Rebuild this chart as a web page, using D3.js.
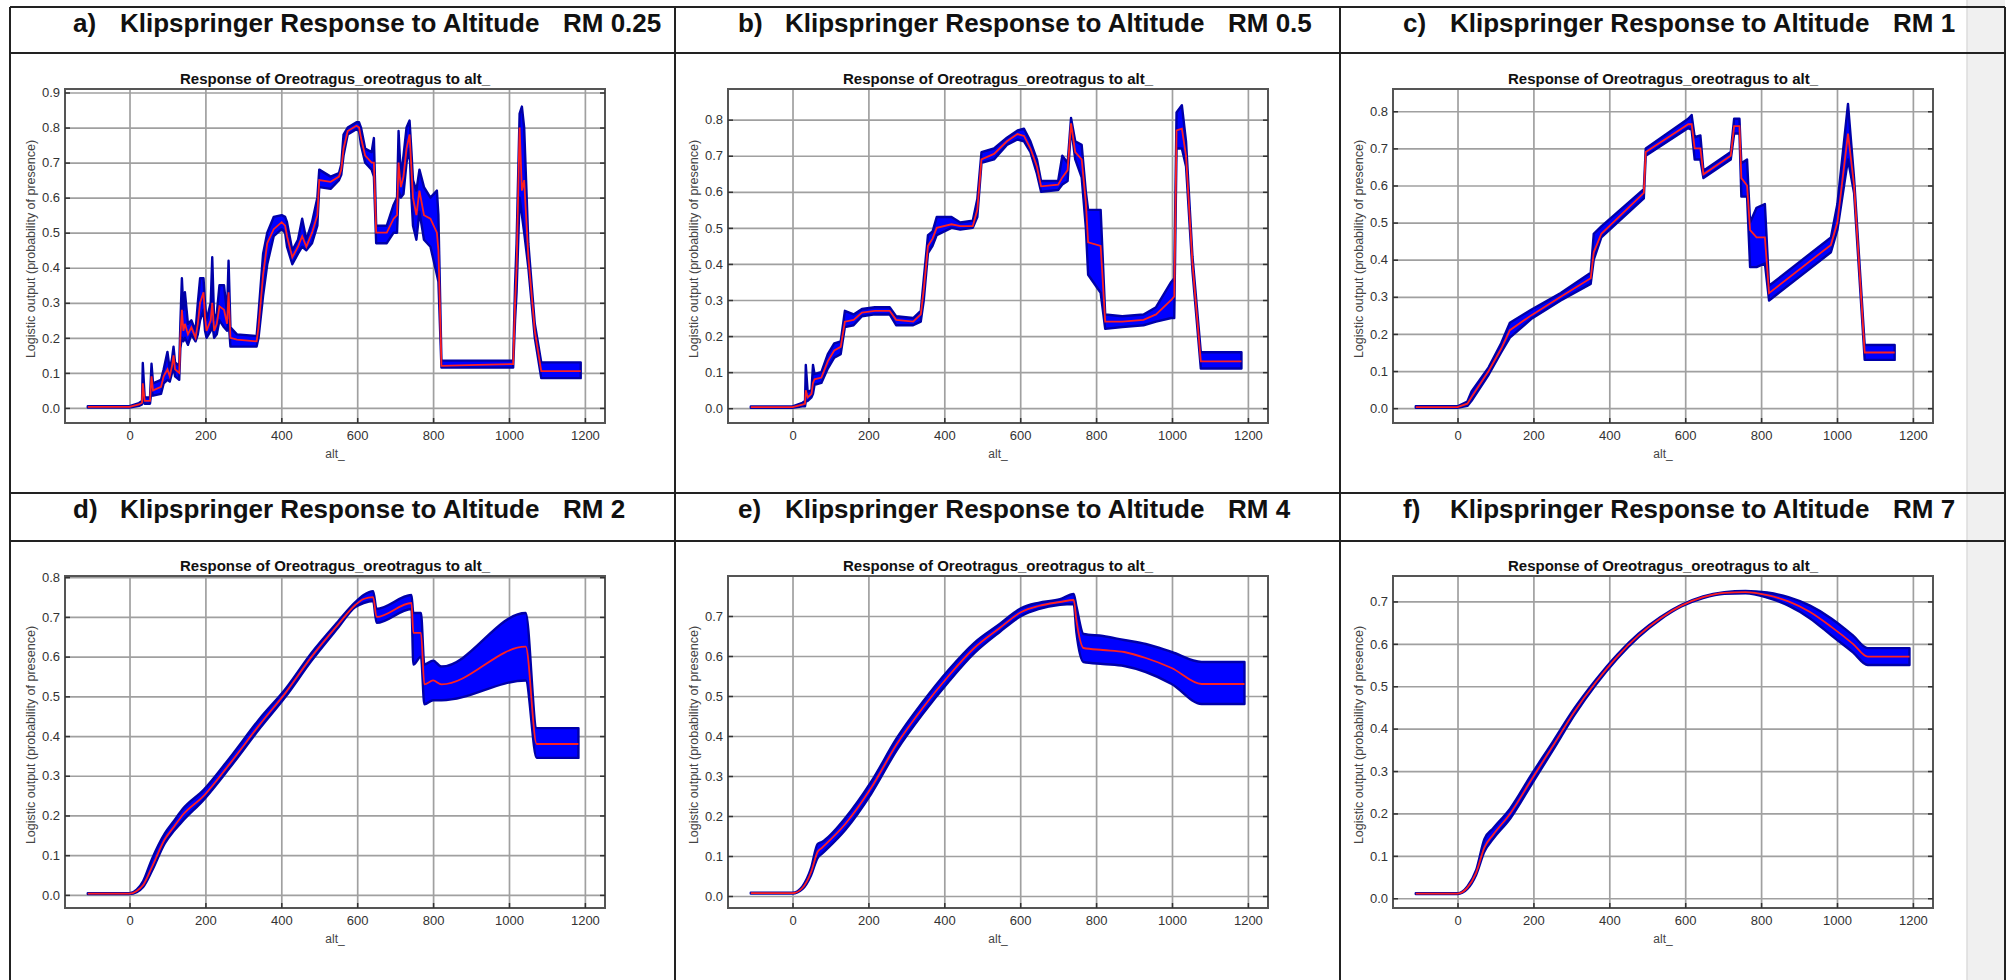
<!DOCTYPE html>
<html>
<head>
<meta charset="utf-8">
<script src="https://cdn.jsdelivr.net/npm/d3@7"></script>
<style>
  body { margin: 0; background: #fff; }
  svg { display: block; font-family: "Liberation Sans", Arial, sans-serif; }
</style>
</head>
<body>
<div id="chart"></div>
<script>
// text of the six panels
const panelLetters = ["a)", "b)", "c)", "d)", "e)", "f)"];
const rmLabels = ["RM 0.25", "RM 0.5", "RM 1", "RM 2", "RM 4", "RM 7"];
const headerText = "Klipspringer Response to Altitude";
const plotTitle = "Response of Oreotragus_oreotragus to alt_";
const yLabel = "Logistic output (probability of presence)";
const xLabel = "alt_";

const xTicks = [0, 200, 400, 600, 800, 1000, 1200];
const yTickCount = [10, 9, 9, 9, 8, 8];   // 0.0 .. 0.9 / 0.8 / 0.7
const yDomains = [[-0.043, 0.91], [-0.041, 0.885], [-0.04, 0.86], [-0.033, 0.803], [-0.03, 0.80], [-0.023, 0.76]];

// rows: [altitude, mean, mean - sd, mean + sd]
const curveA = [
  [-110, 0.003, 0.001, 0.005], [0, 0.003, 0.001, 0.005], [25, 0.01, 0.006, 0.014], [33, 0.015, 0.01, 0.02],
  [35, 0.07, 0.03, 0.128], [40, 0.02, 0.012, 0.03], [54, 0.02, 0.012, 0.03], [58, 0.09, 0.05, 0.126],
  [62, 0.05, 0.035, 0.07], [83, 0.06, 0.04, 0.08], [90, 0.09, 0.07, 0.11], [100, 0.11, 0.08, 0.16],
  [106, 0.09, 0.075, 0.11], [112, 0.12, 0.1, 0.14], [116, 0.15, 0.12, 0.175], [120, 0.11, 0.09, 0.13],
  [131, 0.1, 0.08, 0.12], [134, 0.2, 0.17, 0.24], [138, 0.28, 0.2, 0.37], [142, 0.22, 0.19, 0.28],
  [146, 0.24, 0.2, 0.33], [154, 0.21, 0.18, 0.24], [163, 0.23, 0.21, 0.25], [174, 0.2, 0.19, 0.22],
  [180, 0.24, 0.21, 0.3], [186, 0.3, 0.25, 0.37], [195, 0.33, 0.28, 0.37], [199, 0.26, 0.22, 0.3],
  [203, 0.22, 0.2, 0.25], [214, 0.25, 0.22, 0.3], [218, 0.3, 0.24, 0.43], [223, 0.22, 0.2, 0.25],
  [230, 0.24, 0.21, 0.27], [237, 0.29, 0.25, 0.35], [249, 0.28, 0.23, 0.35], [257, 0.24, 0.22, 0.27],
  [261, 0.33, 0.25, 0.42], [266, 0.2, 0.175, 0.23], [283, 0.195, 0.175, 0.21], [335, 0.19, 0.175, 0.205],
  [340, 0.23, 0.2, 0.27], [352, 0.38, 0.32, 0.44], [363, 0.47, 0.41, 0.5], [380, 0.51, 0.49, 0.545],
  [401, 0.53, 0.51, 0.55], [410, 0.52, 0.5, 0.545], [415, 0.49, 0.46, 0.53], [429, 0.43, 0.41, 0.45],
  [444, 0.46, 0.44, 0.48], [455, 0.49, 0.46, 0.54], [466, 0.46, 0.45, 0.48], [481, 0.5, 0.47, 0.53],
  [495, 0.55, 0.52, 0.6], [500, 0.65, 0.63, 0.68], [530, 0.645, 0.625, 0.66], [552, 0.66, 0.65, 0.67],
  [558, 0.68, 0.665, 0.695], [564, 0.74, 0.72, 0.78], [575, 0.79, 0.78, 0.8], [598, 0.805, 0.795, 0.815],
  [605, 0.8, 0.79, 0.815], [610, 0.77, 0.75, 0.8], [621, 0.72, 0.7, 0.74], [638, 0.7, 0.68, 0.73],
  [644, 0.7, 0.66, 0.77], [650, 0.5, 0.47, 0.52], [678, 0.5, 0.47, 0.52], [696, 0.54, 0.5, 0.58],
  [705, 0.55, 0.5, 0.6], [709, 0.7, 0.62, 0.79], [715, 0.63, 0.6, 0.66], [722, 0.66, 0.61, 0.72],
  [730, 0.74, 0.7, 0.8], [738, 0.78, 0.74, 0.82], [743, 0.68, 0.6, 0.73], [747, 0.6, 0.52, 0.65],
  [756, 0.55, 0.48, 0.62], [764, 0.62, 0.56, 0.68], [776, 0.55, 0.48, 0.63], [793, 0.54, 0.46, 0.6],
  [810, 0.5, 0.38, 0.62], [814, 0.45, 0.36, 0.55], [822, 0.12, 0.115, 0.135], [919, 0.123, 0.115, 0.135],
  [1011, 0.125, 0.115, 0.135], [1016, 0.3, 0.25, 0.35], [1020, 0.4, 0.33, 0.47], [1028, 0.8, 0.6, 0.84],
  [1034, 0.62, 0.55, 0.86], [1040, 0.65, 0.5, 0.8], [1051, 0.43, 0.4, 0.47], [1068, 0.22, 0.2, 0.24],
  [1085, 0.105, 0.085, 0.13], [1189, 0.105, 0.085, 0.13]
];

const curveB = [
  [-110, 0.003, 0.001, 0.005], [0, 0.003, 0.001, 0.005], [26, 0.01, 0.005, 0.015], [33, 0.012, 0.005, 0.02],
  [35, 0.05, 0.02, 0.12], [40, 0.03, 0.02, 0.045], [50, 0.04, 0.03, 0.05], [54, 0.07, 0.04, 0.12],
  [58, 0.08, 0.065, 0.095], [76, 0.085, 0.07, 0.1], [93, 0.13, 0.11, 0.15], [110, 0.16, 0.14, 0.18],
  [127, 0.17, 0.15, 0.185], [138, 0.24, 0.225, 0.27], [161, 0.245, 0.23, 0.26], [183, 0.265, 0.255, 0.275],
  [217, 0.27, 0.26, 0.28], [256, 0.27, 0.26, 0.28], [273, 0.245, 0.23, 0.255], [318, 0.24, 0.23, 0.25],
  [338, 0.26, 0.24, 0.27], [346, 0.33, 0.3, 0.36], [357, 0.45, 0.43, 0.48], [369, 0.47, 0.45, 0.49],
  [380, 0.5, 0.48, 0.53], [419, 0.51, 0.5, 0.53], [442, 0.505, 0.495, 0.515], [475, 0.505, 0.5, 0.52],
  [487, 0.55, 0.53, 0.58], [498, 0.69, 0.68, 0.71], [531, 0.705, 0.69, 0.72], [565, 0.74, 0.73, 0.75],
  [593, 0.76, 0.745, 0.77], [610, 0.755, 0.74, 0.775], [627, 0.72, 0.71, 0.74], [644, 0.67, 0.65, 0.69],
  [655, 0.615, 0.6, 0.63], [700, 0.62, 0.605, 0.63], [711, 0.64, 0.62, 0.7], [725, 0.66, 0.63, 0.68],
  [734, 0.79, 0.78, 0.805], [745, 0.71, 0.69, 0.74], [762, 0.69, 0.64, 0.73], [773, 0.57, 0.5, 0.6],
  [779, 0.46, 0.37, 0.55], [812, 0.45, 0.32, 0.55], [824, 0.24, 0.22, 0.26], [869, 0.24, 0.225, 0.255],
  [925, 0.245, 0.23, 0.26], [958, 0.26, 0.24, 0.28], [998, 0.3, 0.25, 0.35], [1006, 0.31, 0.25, 0.36],
  [1012, 0.77, 0.72, 0.82], [1026, 0.775, 0.72, 0.84], [1037, 0.7, 0.67, 0.74], [1054, 0.4, 0.38, 0.42],
  [1076, 0.13, 0.11, 0.155], [1183, 0.13, 0.11, 0.155]
];

const curveC = [
  [-110, 0.003, 0.001, 0.005], [0, 0.003, 0.001, 0.005], [26, 0.012, 0.006, 0.018], [37, 0.03, 0.02, 0.045],
  [82, 0.1, 0.09, 0.11], [115, 0.16, 0.15, 0.175], [138, 0.21, 0.19, 0.23], [194, 0.25, 0.24, 0.265],
  [272, 0.3, 0.29, 0.31], [351, 0.35, 0.335, 0.365], [359, 0.42, 0.4, 0.47], [379, 0.47, 0.46, 0.49],
  [491, 0.58, 0.565, 0.59], [496, 0.69, 0.68, 0.7], [608, 0.765, 0.755, 0.78], [617, 0.765, 0.75, 0.79],
  [625, 0.7, 0.67, 0.73], [640, 0.7, 0.67, 0.735], [648, 0.63, 0.62, 0.64], [720, 0.68, 0.67, 0.69],
  [729, 0.76, 0.74, 0.78], [743, 0.76, 0.74, 0.78], [748, 0.62, 0.57, 0.66], [763, 0.6, 0.57, 0.67],
  [771, 0.48, 0.38, 0.5], [788, 0.46, 0.38, 0.54], [810, 0.46, 0.39, 0.55], [821, 0.31, 0.29, 0.33],
  [984, 0.44, 0.42, 0.46], [1001, 0.5, 0.48, 0.55], [1029, 0.74, 0.67, 0.82], [1045, 0.6, 0.58, 0.62],
  [1073, 0.15, 0.13, 0.17], [1152, 0.15, 0.13, 0.17]
];

const curveD = [
  [-110, 0.003, 0.002, 0.004], [0, 0.003, 0.002, 0.004], [19, 0.01, 0.007, 0.013], [36, 0.025, 0.02, 0.035],
  [59, 0.07, 0.06, 0.09], [93, 0.14, 0.13, 0.155], [116, 0.17, 0.16, 0.185], [139, 0.2, 0.185, 0.215],
  [196, 0.25, 0.24, 0.265], [264, 0.33, 0.32, 0.345], [344, 0.43, 0.42, 0.445], [412, 0.51, 0.5, 0.52],
  [480, 0.6, 0.59, 0.61], [549, 0.68, 0.672, 0.688], [595, 0.73, 0.725, 0.737], [617, 0.745, 0.735, 0.755],
  [642, 0.75, 0.74, 0.765], [651, 0.7, 0.685, 0.72], [743, 0.735, 0.72, 0.755], [748, 0.66, 0.58, 0.71],
  [768, 0.66, 0.6, 0.71], [777, 0.53, 0.48, 0.58], [800, 0.54, 0.49, 0.59], [822, 0.53, 0.49, 0.575],
  [1044, 0.625, 0.54, 0.71], [1073, 0.38, 0.345, 0.42], [1183, 0.38, 0.345, 0.42]
];

const curveE = [
  [-110, 0.007, 0.006, 0.008], [0, 0.007, 0.006, 0.008], [26, 0.02, 0.017, 0.024], [49, 0.06, 0.052, 0.07],
  [66, 0.11, 0.095, 0.13], [77, 0.12, 0.105, 0.135], [139, 0.18, 0.165, 0.195], [207, 0.27, 0.255, 0.285],
  [275, 0.38, 0.365, 0.395], [343, 0.47, 0.455, 0.485], [411, 0.55, 0.535, 0.565], [479, 0.62, 0.607, 0.633],
  [546, 0.67, 0.66, 0.68], [603, 0.71, 0.7, 0.72], [648, 0.725, 0.717, 0.733], [705, 0.735, 0.728, 0.742],
  [741, 0.74, 0.73, 0.755], [748, 0.69, 0.66, 0.725], [767, 0.62, 0.585, 0.655], [818, 0.615, 0.58, 0.65],
  [874, 0.61, 0.575, 0.64], [931, 0.595, 0.56, 0.63], [999, 0.57, 0.53, 0.61], [1078, 0.53, 0.48, 0.585],
  [1191, 0.53, 0.48, 0.585]
];

const curveF = [
  [-110, 0.011, 0.01, 0.012], [0, 0.011, 0.01, 0.012], [26, 0.025, 0.022, 0.028], [49, 0.06, 0.055, 0.066],
  [71, 0.12, 0.11, 0.14], [94, 0.15, 0.14, 0.165], [139, 0.2, 0.188, 0.212], [195, 0.28, 0.268, 0.292],
  [252, 0.36, 0.35, 0.37], [308, 0.44, 0.432, 0.448], [365, 0.51, 0.504, 0.516], [421, 0.57, 0.565, 0.575],
  [477, 0.62, 0.616, 0.624], [534, 0.66, 0.657, 0.663], [590, 0.69, 0.688, 0.692], [647, 0.71, 0.708, 0.712],
  [703, 0.72, 0.718, 0.722], [759, 0.722, 0.719, 0.725], [816, 0.715, 0.709, 0.721], [872, 0.7, 0.69, 0.71],
  [929, 0.675, 0.66, 0.69], [985, 0.64, 0.62, 0.66], [1042, 0.6, 0.58, 0.62], [1081, 0.57, 0.55, 0.59],
  [1191, 0.57, 0.55, 0.59]
];

const curves = [curveA, curveB, curveC, curveD, curveE, curveF];

// page layout (the table of six cells)
const W = 2008, H = 980;
const colLeft = [10, 675, 1340];
const colRight = 2005;
const rowTop = [7, 493];
const headLine = [53, 541];
const plotLeft = [65, 728, 1393];
const plotW = 540;
const plotTop = [89, 576];
const plotBottom = [423, 908];
const xDomain = [-170, 1253];

const svg = d3.select("#chart").append("svg")
    .attr("width", W)
    .attr("height", H);

svg.append("rect").attr("width", W).attr("height", H).attr("fill", "#fff");

// light grey strip at the right edge of the table
svg.append("rect")
    .attr("x", 1967).attr("y", 0)
    .attr("width", colRight - 1967).attr("height", H)
    .attr("fill", "#f0f0f0");
svg.append("line")
    .attr("x1", 1967).attr("x2", 1967).attr("y1", 0).attr("y2", H)
    .attr("stroke", "#dcdcdc").attr("stroke-width", 1.5);

// table lines
const tableLines = svg.append("g").attr("stroke", "#222").attr("stroke-width", 2);
[rowTop[0], headLine[0], rowTop[1], headLine[1]].forEach(yy => {
    tableLines.append("line").attr("x1", colLeft[0]).attr("x2", colRight).attr("y1", yy).attr("y2", yy);
});
[colLeft[0], colLeft[1], colLeft[2], colRight].forEach(xx => {
    tableLines.append("line").attr("x1", xx).attr("x2", xx).attr("y1", rowTop[0]).attr("y2", H);
});

curves.forEach((data, i) => {
    const col = i % 3, row = Math.floor(i / 3);
    const left = plotLeft[col], right = left + plotW;
    const top = plotTop[row], bottom = plotBottom[row];
    const cx = colLeft[col];

    // header cell
    const head = svg.append("g")
        .attr("font-weight", "bold")
        .attr("font-size", 26)
        .attr("fill", "#111");
    const base = rowTop[row] + 25;
    head.append("text").attr("x", cx + 63).attr("y", base).text(panelLetters[i]);
    head.append("text").attr("x", cx + 110).attr("y", base).text(headerText);
    head.append("text").attr("x", cx + 553).attr("y", base).text(rmLabels[i]);

    const x = d3.scaleLinear().domain(xDomain).range([left, right]);
    const y = d3.scaleLinear().domain(yDomains[i]).range([bottom, top]);
    const yTicks = d3.range(yTickCount[i]).map(k => k / 10);

    const g = svg.append("g");

    // grid
    g.append("g")
        .attr("transform", `translate(0,${bottom})`)
        .call(d3.axisBottom(x).tickValues(xTicks).tickSize(-(bottom - top)).tickFormat(""))
        .call(a => a.select(".domain").remove())
        .call(a => a.selectAll("line").attr("stroke", "#a0a0a0").attr("stroke-width", 1.7));
    g.append("g")
        .attr("transform", `translate(${left},0)`)
        .call(d3.axisLeft(y).tickValues(yTicks).tickSize(-plotW).tickFormat(""))
        .call(a => a.select(".domain").remove())
        .call(a => a.selectAll("line").attr("stroke", "#a0a0a0").attr("stroke-width", 1.7));

    // clipped curve
    const clipId = "clip" + i;
    svg.append("clipPath").attr("id", clipId)
        .append("rect").attr("x", left).attr("y", top).attr("width", plotW).attr("height", bottom - top);

    const area = d3.area()
        .x(d => x(d[0]))
        .y0(d => y(d[2]))
        .y1(d => y(d[3]))
        .curve(i < 3 ? d3.curveLinear : d3.curveMonotoneX);
    const line = d3.line()
        .x(d => x(d[0]))
        .y(d => y(d[1]))
        .curve(i < 3 ? d3.curveLinear : d3.curveMonotoneX);

    const plot = g.append("g").attr("clip-path", `url(#${clipId})`);
    plot.append("path")
        .datum(data)
        .attr("d", area)
        .attr("fill", "#0000ff")
        .attr("stroke", "#0000a8")
        .attr("stroke-width", 2.4)
        .attr("stroke-linejoin", "round");
    plot.append("path")
        .datum(data)
        .attr("d", line)
        .attr("fill", "none")
        .attr("stroke", "#ff2020")
        .attr("stroke-width", 1.8);

    // frame and small inner ticks
    g.append("rect")
        .attr("x", left).attr("y", top)
        .attr("width", plotW).attr("height", bottom - top)
        .attr("fill", "none")
        .attr("stroke", "#555")
        .attr("stroke-width", 2);
    g.append("g")
        .attr("transform", `translate(0,${bottom})`)
        .call(d3.axisBottom(x).tickValues(xTicks).tickSizeInner(-5).tickSizeOuter(0).tickPadding(8)
            .tickFormat(d3.format("d")))
        .call(a => a.select(".domain").remove())
        .call(a => a.selectAll("line").attr("stroke", "#333").attr("stroke-width", 1.5))
        .call(a => a.selectAll("text").attr("font-size", 13).attr("fill", "#333")
            .attr("font-family", "Liberation Sans, Arial, sans-serif"));
    g.append("g")
        .attr("transform", `translate(${left},0)`)
        .call(d3.axisLeft(y).tickValues(yTicks).tickSizeInner(-5).tickSizeOuter(0).tickPadding(5)
            .tickFormat(d3.format(".1f")))
        .call(a => a.select(".domain").remove())
        .call(a => a.selectAll("line").attr("stroke", "#333").attr("stroke-width", 1.5))
        .call(a => a.selectAll("text").attr("font-size", 13).attr("fill", "#333")
            .attr("font-family", "Liberation Sans, Arial, sans-serif"));
    g.append("g")
        .attr("transform", `translate(${right},0)`)
        .call(d3.axisRight(y).tickValues(yTicks).tickSizeInner(-5).tickSizeOuter(0).tickFormat(""))
        .call(a => a.select(".domain").remove())
        .call(a => a.selectAll("line").attr("stroke", "#333").attr("stroke-width", 1.5));

    // titles
    g.append("text")
        .attr("x", (left + right) / 2).attr("y", top - 5)
        .attr("text-anchor", "middle")
        .attr("font-weight", "bold")
        .attr("font-size", 15)
        .attr("fill", "#111")
        .text(plotTitle);
    g.append("text")
        .attr("x", (left + right) / 2).attr("y", bottom + 35)
        .attr("text-anchor", "middle")
        .attr("font-size", 12)
        .attr("fill", "#444")
        .text(xLabel);
    g.append("text")
        .attr("transform", `translate(${left - 30},${(top + bottom) / 2 - 7}) rotate(-90)`)
        .attr("text-anchor", "middle")
        .attr("font-size", 12.5)
        .attr("fill", "#444")
        .text(yLabel);
});
</script>
</body>
</html>
